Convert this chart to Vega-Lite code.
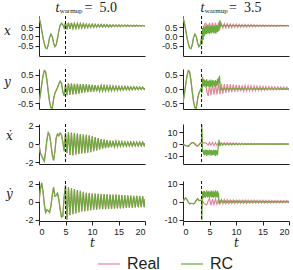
{
  "$schema": "https://vega.github.io/schema/vega-lite/v6.json",
  "padding": {"left": 3, "top": 0, "right": 4, "bottom": 0},
  "datasets": {
    "real": [
      {"t":0,"x":1.0,"y":-0.48,"xd":0,"yd":0},
      {"t":0.25,"x":0.75,"y":-0.2,"xd":-1.0,"yd":1.3},
      {"t":0.5,"x":0.35,"y":0.15,"xd":-1.3,"yd":2.1},
      {"t":0.75,"x":-0.05,"y":0.45,"xd":-1.6,"yd":1.2},
      {"t":1.0,"x":-0.4,"y":0.64,"xd":-1.9,"yd":-0.3},
      {"t":1.25,"x":-0.62,"y":0.6,"xd":-0.8,"yd":-1.2},
      {"t":1.5,"x":-0.66,"y":0.3,"xd":0.5,"yd":-0.9},
      {"t":1.75,"x":-0.45,"y":-0.1,"xd":1.25,"yd":-1.0},
      {"t":2.0,"x":-0.05,"y":-0.45,"xd":1.0,"yd":-1.2},
      {"t":2.25,"x":0.12,"y":-0.65,"xd":0.0,"yd":-0.5},
      {"t":2.5,"x":0.0,"y":-0.68,"xd":-1.2,"yd":0.7},
      {"t":2.75,"x":-0.35,"y":-0.35,"xd":-1.8,"yd":1.6},
      {"t":3.0,"x":-0.55,"y":-0.15,"xd":-0.8,"yd":0.6},
      {"t":3.25,"x":-0.45,"y":-0.05,"xd":0.7,"yd":0.7},
      {"t":3.5,"x":-0.1,"y":0.05,"xd":1.1,"yd":0.95},
      {"t":3.75,"x":0.3,"y":0.18,"xd":0.9,"yd":0.2},
      {"t":4.0,"x":0.6,"y":0.27,"xd":1.2,"yd":-0.9},
      {"t":4.25,"x":0.7,"y":0.2,"xd":1.0,"yd":-1.7},
      {"t":4.5,"x":0.62,"y":-0.1,"xd":0.2,"yd":-1.6},
      {"t":4.75,"x":0.45,"y":-0.24,"xd":-0.8,"yd":0.6},
      {"t":5.0,"x":0.72,"y":0.15,"xd":1.2,"yd":1.8},
      {"t":5.28,"x":0.38,"y":-0.22,"xd":-1.0,"yd":-2.0},
      {"t":5.56,"x":0.74,"y":0.2,"xd":1.3,"yd":1.6},
      {"t":5.84,"x":0.40,"y":-0.2,"xd":-1.2,"yd":-1.5},
      {"t":6.12,"x":0.72,"y":0.19,"xd":1.25,"yd":1.5},
      {"t":6.40,"x":0.42,"y":-0.19,"xd":-1.25,"yd":-1.4},
      {"t":6.68,"x":0.70,"y":0.18,"xd":1.2,"yd":1.4},
      {"t":6.96,"x":0.43,"y":-0.18,"xd":-1.15,"yd":-1.3},
      {"t":7.24,"x":0.69,"y":0.18,"xd":1.15,"yd":1.3},
      {"t":7.52,"x":0.44,"y":-0.16,"xd":-1.1,"yd":-1.2},
      {"t":7.80,"x":0.68,"y":0.17,"xd":1.1,"yd":1.2},
      {"t":8.08,"x":0.45,"y":-0.14,"xd":-1.05,"yd":-1.1},
      {"t":8.36,"x":0.67,"y":0.17,"xd":1.05,"yd":1.1},
      {"t":8.64,"x":0.46,"y":-0.12,"xd":-1.0,"yd":-1.05},
      {"t":8.92,"x":0.66,"y":0.16,"xd":1.0,"yd":1.0},
      {"t":9.20,"x":0.47,"y":-0.11,"xd":-0.95,"yd":-1.0},
      {"t":9.48,"x":0.655,"y":0.15,"xd":0.95,"yd":0.95},
      {"t":9.76,"x":0.48,"y":-0.1,"xd":-0.9,"yd":-0.95},
      {"t":10.04,"x":0.65,"y":0.14,"xd":0.85,"yd":0.9},
      {"t":10.32,"x":0.485,"y":-0.09,"xd":-0.8,"yd":-0.9},
      {"t":10.60,"x":0.645,"y":0.135,"xd":0.75,"yd":0.9},
      {"t":10.88,"x":0.49,"y":-0.08,"xd":-0.7,"yd":-0.88},
      {"t":11.16,"x":0.64,"y":0.13,"xd":0.65,"yd":0.88},
      {"t":11.44,"x":0.495,"y":-0.075,"xd":-0.6,"yd":-0.85},
      {"t":11.72,"x":0.635,"y":0.12,"xd":0.55,"yd":0.85},
      {"t":12.00,"x":0.50,"y":-0.07,"xd":-0.52,"yd":-0.85},
      {"t":12.28,"x":0.63,"y":0.115,"xd":0.48,"yd":0.85},
      {"t":12.56,"x":0.505,"y":-0.065,"xd":-0.45,"yd":-0.83},
      {"t":12.84,"x":0.625,"y":0.11,"xd":0.42,"yd":0.83},
      {"t":13.12,"x":0.51,"y":-0.06,"xd":-0.4,"yd":-0.8},
      {"t":13.40,"x":0.62,"y":0.105,"xd":0.37,"yd":0.8},
      {"t":13.68,"x":0.515,"y":-0.055,"xd":-0.35,"yd":-0.8},
      {"t":13.96,"x":0.615,"y":0.10,"xd":0.33,"yd":0.8},
      {"t":14.24,"x":0.52,"y":-0.05,"xd":-0.31,"yd":-0.78},
      {"t":14.52,"x":0.61,"y":0.095,"xd":0.3,"yd":0.78},
      {"t":14.80,"x":0.525,"y":-0.045,"xd":-0.28,"yd":-0.76},
      {"t":15.08,"x":0.61,"y":0.09,"xd":0.27,"yd":0.76},
      {"t":15.36,"x":0.525,"y":-0.04,"xd":-0.26,"yd":-0.74},
      {"t":15.64,"x":0.605,"y":0.085,"xd":0.25,"yd":0.74},
      {"t":15.92,"x":0.53,"y":-0.035,"xd":-0.24,"yd":-0.72},
      {"t":16.20,"x":0.605,"y":0.085,"xd":0.24,"yd":0.72},
      {"t":16.48,"x":0.53,"y":-0.03,"xd":-0.23,"yd":-0.7},
      {"t":16.76,"x":0.60,"y":0.08,"xd":0.23,"yd":0.7},
      {"t":17.04,"x":0.535,"y":-0.03,"xd":-0.22,"yd":-0.68},
      {"t":17.32,"x":0.60,"y":0.075,"xd":0.22,"yd":0.68},
      {"t":17.60,"x":0.535,"y":-0.025,"xd":-0.22,"yd":-0.66},
      {"t":17.88,"x":0.595,"y":0.075,"xd":0.22,"yd":0.66},
      {"t":18.16,"x":0.54,"y":-0.02,"xd":-0.21,"yd":-0.64},
      {"t":18.44,"x":0.595,"y":0.07,"xd":0.21,"yd":0.64},
      {"t":18.72,"x":0.54,"y":-0.02,"xd":-0.21,"yd":-0.62},
      {"t":19.00,"x":0.59,"y":0.065,"xd":0.21,"yd":0.62},
      {"t":19.28,"x":0.545,"y":-0.015,"xd":-0.2,"yd":-0.6},
      {"t":19.56,"x":0.59,"y":0.065,"xd":0.2,"yd":0.6},
      {"t":19.84,"x":0.545,"y":-0.015,"xd":-0.2,"yd":-0.6},
      {"t":20.0,"x":0.57,"y":0.03,"xd":0.1,"yd":0.3}
    ],
    "rc": [
      {"t":3.5,"x":-0.1,"y":0.05,"xd":1.1,"yd":0.95},
      {"t":3.55,"x":-0.3,"y":-0.05,"xd":16.3,"yd":-10.2},
      {"t":3.6,"x":-0.45,"y":-0.15,"xd":10,"yd":-4},
      {"t":3.7,"x":0.45,"y":0.42,"xd":-7,"yd":5.5},
      {"t":3.8,"x":-0.2,"y":0.1,"xd":-5,"yd":2.0},
      {"t":3.9,"x":0.55,"y":0.35,"xd":-9,"yd":5.8},
      {"t":4.0,"x":0.0,"y":0.08,"xd":-5.5,"yd":2.5},
      {"t":4.1,"x":0.5,"y":0.32,"xd":-9.5,"yd":6.0},
      {"t":4.2,"x":0.1,"y":0.12,"xd":-4.8,"yd":2.2},
      {"t":4.3,"x":0.6,"y":0.3,"xd":-8.8,"yd":5.2},
      {"t":4.4,"x":0.12,"y":0.06,"xd":-5.2,"yd":3.0},
      {"t":4.5,"x":0.55,"y":0.34,"xd":-10.2,"yd":6.3},
      {"t":4.6,"x":0.15,"y":0.1,"xd":-5.0,"yd":2.4},
      {"t":4.7,"x":0.62,"y":0.28,"xd":-9.0,"yd":5.5},
      {"t":4.8,"x":0.18,"y":0.08,"xd":-5.6,"yd":2.8},
      {"t":4.9,"x":0.5,"y":0.3,"xd":-9.8,"yd":6.1},
      {"t":5.0,"x":0.12,"y":0.12,"xd":-4.8,"yd":2.0},
      {"t":5.1,"x":0.58,"y":0.33,"xd":-8.6,"yd":5.4},
      {"t":5.2,"x":0.2,"y":0.07,"xd":-5.4,"yd":2.9},
      {"t":5.3,"x":0.55,"y":0.29,"xd":-10.0,"yd":6.2},
      {"t":5.4,"x":0.15,"y":0.11,"xd":-5.1,"yd":2.3},
      {"t":5.5,"x":0.6,"y":0.32,"xd":-9.2,"yd":5.7},
      {"t":5.6,"x":0.22,"y":0.08,"xd":-5.8,"yd":2.6},
      {"t":5.7,"x":0.52,"y":0.3,"xd":-9.6,"yd":6.0},
      {"t":5.8,"x":0.16,"y":0.13,"xd":-4.9,"yd":2.1},
      {"t":5.9,"x":0.58,"y":0.27,"xd":-8.9,"yd":5.3},
      {"t":6.0,"x":0.2,"y":0.09,"xd":-5.3,"yd":3.0},
      {"t":6.1,"x":0.55,"y":0.31,"xd":-10.4,"yd":6.3},
      {"t":6.2,"x":0.14,"y":0.1,"xd":-5.0,"yd":2.4},
      {"t":6.3,"x":0.6,"y":0.28,"xd":-9.0,"yd":5.6},
      {"t":6.4,"x":0.22,"y":0.12,"xd":-5.5,"yd":2.7},
      {"t":6.5,"x":0.56,"y":0.35,"xd":-9.7,"yd":6.1},
      {"t":6.6,"x":0.25,"y":0.15,"xd":-4.6,"yd":2.2},
      {"t":6.7,"x":0.62,"y":0.4,"xd":-1.0,"yd":5.0},
      {"t":6.8,"x":0.3,"y":0.2,"xd":3.5,"yd":-1.3},
      {"t":6.9,"x":0.75,"y":0.46,"xd":-1.5,"yd":0.5},
      {"t":7.0,"x":0.85,"y":0.1,"xd":1.0,"yd":-0.8},
      {"t":7.1,"x":0.5,"y":-0.05,"xd":-0.5,"yd":0.3},
      {"t":7.2,"x":0.62,"y":0.03,"xd":0.3,"yd":-0.2},
      {"t":7.48,"x":0.55,"y":-0.03,"xd":-0.3,"yd":0.5},
      {"t":7.76,"x":0.6,"y":0.03,"xd":0.3,"yd":-0.5},
      {"t":8.04,"x":0.55,"y":-0.03,"xd":-0.3,"yd":0.5},
      {"t":8.32,"x":0.6,"y":0.03,"xd":0.28,"yd":-0.48},
      {"t":8.60,"x":0.555,"y":-0.025,"xd":-0.28,"yd":0.48},
      {"t":8.88,"x":0.595,"y":0.025,"xd":0.26,"yd":-0.46},
      {"t":9.16,"x":0.555,"y":-0.025,"xd":-0.26,"yd":0.46},
      {"t":9.44,"x":0.595,"y":0.025,"xd":0.24,"yd":-0.44},
      {"t":9.72,"x":0.56,"y":-0.02,"xd":-0.24,"yd":0.44},
      {"t":10.00,"x":0.59,"y":0.02,"xd":0.22,"yd":-0.42},
      {"t":10.28,"x":0.56,"y":-0.02,"xd":-0.22,"yd":0.42},
      {"t":10.56,"x":0.59,"y":0.02,"xd":0.2,"yd":-0.4},
      {"t":10.84,"x":0.565,"y":-0.02,"xd":-0.2,"yd":0.4},
      {"t":11.12,"x":0.59,"y":0.02,"xd":0.18,"yd":-0.4},
      {"t":11.40,"x":0.565,"y":-0.015,"xd":-0.18,"yd":0.38},
      {"t":11.68,"x":0.585,"y":0.015,"xd":0.16,"yd":-0.38},
      {"t":11.96,"x":0.565,"y":-0.015,"xd":-0.16,"yd":0.36},
      {"t":12.24,"x":0.585,"y":0.015,"xd":0.15,"yd":-0.36},
      {"t":12.52,"x":0.57,"y":-0.015,"xd":-0.15,"yd":0.35},
      {"t":12.80,"x":0.585,"y":0.015,"xd":0.14,"yd":-0.35},
      {"t":13.08,"x":0.57,"y":-0.01,"xd":-0.14,"yd":0.34},
      {"t":13.36,"x":0.585,"y":0.01,"xd":0.13,"yd":-0.34},
      {"t":13.64,"x":0.57,"y":-0.01,"xd":-0.13,"yd":0.33},
      {"t":13.92,"x":0.58,"y":0.01,"xd":0.12,"yd":-0.33},
      {"t":14.20,"x":0.57,"y":-0.01,"xd":-0.12,"yd":0.32},
      {"t":14.48,"x":0.58,"y":0.01,"xd":0.11,"yd":-0.32},
      {"t":14.76,"x":0.57,"y":-0.01,"xd":-0.11,"yd":0.31},
      {"t":15.04,"x":0.58,"y":0.01,"xd":0.1,"yd":-0.31},
      {"t":15.32,"x":0.57,"y":-0.01,"xd":-0.1,"yd":0.3},
      {"t":15.60,"x":0.58,"y":0.01,"xd":0.1,"yd":-0.3},
      {"t":15.88,"x":0.572,"y":-0.008,"xd":-0.1,"yd":0.3},
      {"t":16.16,"x":0.58,"y":0.008,"xd":0.09,"yd":-0.29},
      {"t":16.44,"x":0.572,"y":-0.008,"xd":-0.09,"yd":0.29},
      {"t":16.72,"x":0.58,"y":0.008,"xd":0.09,"yd":-0.28},
      {"t":17.00,"x":0.572,"y":-0.008,"xd":-0.09,"yd":0.28},
      {"t":17.28,"x":0.58,"y":0.008,"xd":0.08,"yd":-0.28},
      {"t":17.56,"x":0.572,"y":-0.008,"xd":-0.08,"yd":0.27},
      {"t":17.84,"x":0.578,"y":0.008,"xd":0.08,"yd":-0.27},
      {"t":18.12,"x":0.572,"y":-0.006,"xd":-0.08,"yd":0.27},
      {"t":18.40,"x":0.578,"y":0.006,"xd":0.08,"yd":-0.26},
      {"t":18.68,"x":0.572,"y":-0.006,"xd":-0.08,"yd":0.26},
      {"t":18.96,"x":0.578,"y":0.006,"xd":0.07,"yd":-0.26},
      {"t":19.24,"x":0.572,"y":-0.006,"xd":-0.07,"yd":0.25},
      {"t":19.52,"x":0.578,"y":0.006,"xd":0.07,"yd":-0.25},
      {"t":19.80,"x":0.572,"y":-0.006,"xd":-0.07,"yd":0.25},
      {"t":20.0,"x":0.575,"y":0.0,"xd":0.0,"yd":0.0}
    ]
  },
  "columns": 2,
  "spacing": {"row": 11, "column": 15},
  "concat": [
    {
      "width": 106, "height": 40,
      "layer": [
        {"data": {"name": "real"}, "mark": {"type": "line", "clip": true},
         "encoding": {
           "x": {"field": "t", "type": "quantitative", "scale": {"domain": [0, 20], "nice": false}, "axis": {"labels": false, "ticks": false, "title": null, "labelOverlap": false}},
           "y": {"field": "x", "type": "quantitative", "scale": {"domain": [-1.05, 1.09], "nice": false, "zero": false}, "axis": {"values": [-0.5, 0, 0.5], "format": ".1f", "labelOverlap": false, "title": "x", "titleAngle": 0, "titleAlign": "center", "titleBaseline": "alphabetic", "titleX": -32, "titleY": 18}},
           "color": {"datum": "Real", "type": "nominal", "scale": {"domain": ["Real", "RC"], "range": ["#e7849b", "#6aab3b"]}, "legend": {"title": null}}}},
        {"data": {"name": "real"}, "mark": {"type": "line", "clip": true},
         "encoding": {
           "x": {"field": "t", "type": "quantitative", "scale": {"domain": [0, 20], "nice": false}, "axis": {"labels": false, "ticks": false, "title": null, "labelOverlap": false}},
           "y": {"field": "x", "type": "quantitative", "scale": {"domain": [-1.05, 1.09], "nice": false, "zero": false}, "axis": {"values": [-0.5, 0, 0.5], "format": ".1f", "labelOverlap": false, "title": "x", "titleAngle": 0, "titleAlign": "center", "titleBaseline": "alphabetic", "titleX": -32, "titleY": 18}},
           "color": {"datum": "RC", "type": "nominal", "scale": {"domain": ["Real", "RC"], "range": ["#e7849b", "#6aab3b"]}, "legend": {"title": null}}}},
        {"data": {"values": [{"tw": 5}]}, "mark": {"type": "rule", "strokeDash": [3, 2], "color": "#111", "strokeWidth": 1},
         "encoding": {"x": {"field": "tw", "type": "quantitative", "scale": {"domain": [0, 20], "nice": false}, "axis": {"labels": false, "ticks": false, "title": null, "labelOverlap": false}}}},
        {"data": {"values": [{"tw": 5}]}, "mark": {"type": "text", "text": "t", "font": "Liberation Serif", "fontStyle": "italic", "fontSize": 14, "align": "left", "baseline": "alphabetic", "fill": "#222"},
         "encoding": {"x": {"datum": 3.1, "type": "quantitative", "scale": {"domain": [0, 20], "nice": false}, "axis": {"labels": false, "ticks": false, "title": null, "labelOverlap": false}}, "y": {"datum": 1.33, "type": "quantitative", "scale": {"domain": [-1.05, 1.09], "nice": false, "zero": false}, "axis": {"values": [-0.5, 0, 0.5], "format": ".1f", "labelOverlap": false, "title": "x", "titleAngle": 0, "titleAlign": "center", "titleBaseline": "alphabetic", "titleX": -32, "titleY": 18}}}},
        {"data": {"values": [{"tw": 5}]}, "mark": {"type": "text", "text": "warmup", "font": "Liberation Serif", "fontSize": 7, "align": "left", "baseline": "alphabetic", "fill": "#222"},
         "encoding": {"x": {"datum": 3.9, "type": "quantitative", "scale": {"domain": [0, 20], "nice": false}, "axis": {"labels": false, "ticks": false, "title": null, "labelOverlap": false}}, "y": {"datum": 1.26, "type": "quantitative", "scale": {"domain": [-1.05, 1.09], "nice": false, "zero": false}, "axis": {"values": [-0.5, 0, 0.5], "format": ".1f", "labelOverlap": false, "title": "x", "titleAngle": 0, "titleAlign": "center", "titleBaseline": "alphabetic", "titleX": -32, "titleY": 18}}}},
        {"data": {"values": [{"tw": 5}]}, "mark": {"type": "text", "text": "=\u20025.0", "font": "Liberation Serif", "fontSize": 14, "align": "left", "baseline": "alphabetic", "fill": "#222"},
         "encoding": {"x": {"datum": 8.6, "type": "quantitative", "scale": {"domain": [0, 20], "nice": false}, "axis": {"labels": false, "ticks": false, "title": null, "labelOverlap": false}}, "y": {"datum": 1.33, "type": "quantitative", "scale": {"domain": [-1.05, 1.09], "nice": false, "zero": false}, "axis": {"values": [-0.5, 0, 0.5], "format": ".1f", "labelOverlap": false, "title": "x", "titleAngle": 0, "titleAlign": "center", "titleBaseline": "alphabetic", "titleX": -32, "titleY": 18}}}}
      ]
    },
    {
      "width": 106, "height": 40,
      "layer": [
        {"data": {"name": "real"}, "mark": {"type": "line", "clip": true},
         "encoding": {
           "x": {"field": "t", "type": "quantitative", "scale": {"domain": [0, 20], "nice": false}, "axis": {"labels": false, "ticks": false, "title": null, "labelOverlap": false}},
           "y": {"field": "x", "type": "quantitative", "scale": {"domain": [-1.05, 1.09], "nice": false, "zero": false}, "axis": {"values": [-0.5, 0, 0.5], "format": ".1f", "labelOverlap": false, "title": null}},
           "color": {"datum": "Real", "type": "nominal", "scale": {"domain": ["Real", "RC"], "range": ["#e7849b", "#6aab3b"]}, "legend": {"title": null}}}},
        {"data": {"name": "real"}, "transform": [{"filter": "datum.t <= 3.5"}], "mark": {"type": "line", "clip": true},
         "encoding": {
           "x": {"field": "t", "type": "quantitative", "scale": {"domain": [0, 20], "nice": false}, "axis": {"labels": false, "ticks": false, "title": null, "labelOverlap": false}},
           "y": {"field": "x", "type": "quantitative", "scale": {"domain": [-1.05, 1.09], "nice": false, "zero": false}, "axis": {"values": [-0.5, 0, 0.5], "format": ".1f", "labelOverlap": false, "title": null}},
           "color": {"datum": "RC", "type": "nominal", "scale": {"domain": ["Real", "RC"], "range": ["#e7849b", "#6aab3b"]}, "legend": {"title": null}}}},
        {"data": {"name": "rc"}, "mark": {"type": "line", "clip": true},
         "encoding": {
           "x": {"field": "t", "type": "quantitative", "scale": {"domain": [0, 20], "nice": false}, "axis": {"labels": false, "ticks": false, "title": null, "labelOverlap": false}},
           "y": {"field": "x", "type": "quantitative", "scale": {"domain": [-1.05, 1.09], "nice": false, "zero": false}, "axis": {"values": [-0.5, 0, 0.5], "format": ".1f", "labelOverlap": false, "title": null}},
           "color": {"datum": "RC", "type": "nominal", "scale": {"domain": ["Real", "RC"], "range": ["#e7849b", "#6aab3b"]}, "legend": {"title": null}}}},
        {"data": {"values": [{"tw": 3.5}]}, "mark": {"type": "rule", "strokeDash": [3, 2], "color": "#111", "strokeWidth": 1},
         "encoding": {"x": {"field": "tw", "type": "quantitative", "scale": {"domain": [0, 20], "nice": false}, "axis": {"labels": false, "ticks": false, "title": null, "labelOverlap": false}}}},
        {"data": {"values": [{"tw": 3.5}]}, "mark": {"type": "text", "text": "t", "font": "Liberation Serif", "fontStyle": "italic", "fontSize": 14, "align": "left", "baseline": "alphabetic", "fill": "#222"},
         "encoding": {"x": {"datum": 3.3, "type": "quantitative", "scale": {"domain": [0, 20], "nice": false}, "axis": {"labels": false, "ticks": false, "title": null, "labelOverlap": false}}, "y": {"datum": 1.33, "type": "quantitative", "scale": {"domain": [-1.05, 1.09], "nice": false, "zero": false}, "axis": {"values": [-0.5, 0, 0.5], "format": ".1f", "labelOverlap": false, "title": null}}}},
        {"data": {"values": [{"tw": 3.5}]}, "mark": {"type": "text", "text": "warmup", "font": "Liberation Serif", "fontSize": 7, "align": "left", "baseline": "alphabetic", "fill": "#222"},
         "encoding": {"x": {"datum": 4.1, "type": "quantitative", "scale": {"domain": [0, 20], "nice": false}, "axis": {"labels": false, "ticks": false, "title": null, "labelOverlap": false}}, "y": {"datum": 1.26, "type": "quantitative", "scale": {"domain": [-1.05, 1.09], "nice": false, "zero": false}, "axis": {"values": [-0.5, 0, 0.5], "format": ".1f", "labelOverlap": false, "title": null}}}},
        {"data": {"values": [{"tw": 3.5}]}, "mark": {"type": "text", "text": "=\u20023.5", "font": "Liberation Serif", "fontSize": 14, "align": "left", "baseline": "alphabetic", "fill": "#222"},
         "encoding": {"x": {"datum": 8.7, "type": "quantitative", "scale": {"domain": [0, 20], "nice": false}, "axis": {"labels": false, "ticks": false, "title": null, "labelOverlap": false}}, "y": {"datum": 1.33, "type": "quantitative", "scale": {"domain": [-1.05, 1.09], "nice": false, "zero": false}, "axis": {"values": [-0.5, 0, 0.5], "format": ".1f", "labelOverlap": false, "title": null}}}}
      ]
    },
    {
      "width": 106, "height": 40,
      "layer": [
        {"data": {"name": "real"}, "mark": {"type": "line", "clip": true},
         "encoding": {
           "x": {"field": "t", "type": "quantitative", "scale": {"domain": [0, 20], "nice": false}, "axis": {"labels": false, "ticks": false, "title": null, "labelOverlap": false}},
           "y": {"field": "y", "type": "quantitative", "scale": {"domain": [-0.7, 0.7], "nice": false, "zero": false}, "axis": {"values": [-0.5, 0, 0.5], "format": ".1f", "labelOverlap": false, "title": "y", "titleAngle": 0, "titleAlign": "center", "titleBaseline": "alphabetic", "titleX": -32, "titleY": 16}},
           "color": {"datum": "Real", "type": "nominal", "scale": {"domain": ["Real", "RC"], "range": ["#e7849b", "#6aab3b"]}, "legend": {"title": null}}}},
        {"data": {"name": "real"}, "mark": {"type": "line", "clip": true},
         "encoding": {
           "x": {"field": "t", "type": "quantitative", "scale": {"domain": [0, 20], "nice": false}, "axis": {"labels": false, "ticks": false, "title": null, "labelOverlap": false}},
           "y": {"field": "y", "type": "quantitative", "scale": {"domain": [-0.7, 0.7], "nice": false, "zero": false}, "axis": {"values": [-0.5, 0, 0.5], "format": ".1f", "labelOverlap": false, "title": "y", "titleAngle": 0, "titleAlign": "center", "titleBaseline": "alphabetic", "titleX": -32, "titleY": 16}},
           "color": {"datum": "RC", "type": "nominal", "scale": {"domain": ["Real", "RC"], "range": ["#e7849b", "#6aab3b"]}, "legend": {"title": null}}}},
        {"data": {"values": [{"tw": 5}]}, "mark": {"type": "rule", "strokeDash": [3, 2], "color": "#111", "strokeWidth": 1},
         "encoding": {"x": {"field": "tw", "type": "quantitative", "scale": {"domain": [0, 20], "nice": false}, "axis": {"labels": false, "ticks": false, "title": null, "labelOverlap": false}}}}
      ]
    },
    {
      "width": 106, "height": 40,
      "layer": [
        {"data": {"name": "real"}, "mark": {"type": "line", "clip": true},
         "encoding": {
           "x": {"field": "t", "type": "quantitative", "scale": {"domain": [0, 20], "nice": false}, "axis": {"labels": false, "ticks": false, "title": null, "labelOverlap": false}},
           "y": {"field": "y", "type": "quantitative", "scale": {"domain": [-0.7, 0.7], "nice": false, "zero": false}, "axis": {"values": [-0.5, 0, 0.5], "format": ".1f", "labelOverlap": false, "title": null}},
           "color": {"datum": "Real", "type": "nominal", "scale": {"domain": ["Real", "RC"], "range": ["#e7849b", "#6aab3b"]}, "legend": {"title": null}}}},
        {"data": {"name": "real"}, "transform": [{"filter": "datum.t <= 3.5"}], "mark": {"type": "line", "clip": true},
         "encoding": {
           "x": {"field": "t", "type": "quantitative", "scale": {"domain": [0, 20], "nice": false}, "axis": {"labels": false, "ticks": false, "title": null, "labelOverlap": false}},
           "y": {"field": "y", "type": "quantitative", "scale": {"domain": [-0.7, 0.7], "nice": false, "zero": false}, "axis": {"values": [-0.5, 0, 0.5], "format": ".1f", "labelOverlap": false, "title": null}},
           "color": {"datum": "RC", "type": "nominal", "scale": {"domain": ["Real", "RC"], "range": ["#e7849b", "#6aab3b"]}, "legend": {"title": null}}}},
        {"data": {"name": "rc"}, "mark": {"type": "line", "clip": true},
         "encoding": {
           "x": {"field": "t", "type": "quantitative", "scale": {"domain": [0, 20], "nice": false}, "axis": {"labels": false, "ticks": false, "title": null, "labelOverlap": false}},
           "y": {"field": "y", "type": "quantitative", "scale": {"domain": [-0.7, 0.7], "nice": false, "zero": false}, "axis": {"values": [-0.5, 0, 0.5], "format": ".1f", "labelOverlap": false, "title": null}},
           "color": {"datum": "RC", "type": "nominal", "scale": {"domain": ["Real", "RC"], "range": ["#e7849b", "#6aab3b"]}, "legend": {"title": null}}}},
        {"data": {"values": [{"tw": 3.5}]}, "mark": {"type": "rule", "strokeDash": [3, 2], "color": "#111", "strokeWidth": 1},
         "encoding": {"x": {"field": "tw", "type": "quantitative", "scale": {"domain": [0, 20], "nice": false}, "axis": {"labels": false, "ticks": false, "title": null, "labelOverlap": false}}}}
      ]
    },
    {
      "width": 106, "height": 40,
      "layer": [
        {"data": {"name": "real"}, "mark": {"type": "line", "clip": true},
         "encoding": {
           "x": {"field": "t", "type": "quantitative", "scale": {"domain": [0, 20], "nice": false}, "axis": {"labels": false, "ticks": false, "title": null, "labelOverlap": false}},
           "y": {"field": "xd", "type": "quantitative", "scale": {"domain": [-2.2, 2.2], "nice": false, "zero": false}, "axis": {"values": [-2, 0, 2], "format": "d", "labelOverlap": false, "title": "ẋ", "titleAngle": 0, "titleAlign": "center", "titleBaseline": "alphabetic", "titleX": -30, "titleY": 15}},
           "color": {"datum": "Real", "type": "nominal", "scale": {"domain": ["Real", "RC"], "range": ["#e7849b", "#6aab3b"]}, "legend": {"title": null}}}},
        {"data": {"name": "real"}, "mark": {"type": "line", "clip": true},
         "encoding": {
           "x": {"field": "t", "type": "quantitative", "scale": {"domain": [0, 20], "nice": false}, "axis": {"labels": false, "ticks": false, "title": null, "labelOverlap": false}},
           "y": {"field": "xd", "type": "quantitative", "scale": {"domain": [-2.2, 2.2], "nice": false, "zero": false}, "axis": {"values": [-2, 0, 2], "format": "d", "labelOverlap": false, "title": "ẋ", "titleAngle": 0, "titleAlign": "center", "titleBaseline": "alphabetic", "titleX": -30, "titleY": 15}},
           "color": {"datum": "RC", "type": "nominal", "scale": {"domain": ["Real", "RC"], "range": ["#e7849b", "#6aab3b"]}, "legend": {"title": null}}}},
        {"data": {"values": [{"tw": 5}]}, "mark": {"type": "rule", "strokeDash": [3, 2], "color": "#111", "strokeWidth": 1},
         "encoding": {"x": {"field": "tw", "type": "quantitative", "scale": {"domain": [0, 20], "nice": false}, "axis": {"labels": false, "ticks": false, "title": null, "labelOverlap": false}}}}
      ]
    },
    {
      "width": 106, "height": 40,
      "layer": [
        {"data": {"name": "real"}, "mark": {"type": "line", "clip": true},
         "encoding": {
           "x": {"field": "t", "type": "quantitative", "scale": {"domain": [0, 20], "nice": false}, "axis": {"labels": false, "ticks": false, "title": null, "labelOverlap": false}},
           "y": {"field": "xd", "type": "quantitative", "scale": {"domain": [-17, 17], "nice": false, "zero": false}, "axis": {"values": [-10, 0, 10], "format": "d", "labelOverlap": false, "title": null}},
           "color": {"datum": "Real", "type": "nominal", "scale": {"domain": ["Real", "RC"], "range": ["#e7849b", "#6aab3b"]}, "legend": {"title": null}}}},
        {"data": {"name": "real"}, "transform": [{"filter": "datum.t <= 3.5"}], "mark": {"type": "line", "clip": true},
         "encoding": {
           "x": {"field": "t", "type": "quantitative", "scale": {"domain": [0, 20], "nice": false}, "axis": {"labels": false, "ticks": false, "title": null, "labelOverlap": false}},
           "y": {"field": "xd", "type": "quantitative", "scale": {"domain": [-17, 17], "nice": false, "zero": false}, "axis": {"values": [-10, 0, 10], "format": "d", "labelOverlap": false, "title": null}},
           "color": {"datum": "RC", "type": "nominal", "scale": {"domain": ["Real", "RC"], "range": ["#e7849b", "#6aab3b"]}, "legend": {"title": null}}}},
        {"data": {"name": "rc"}, "mark": {"type": "line", "clip": true},
         "encoding": {
           "x": {"field": "t", "type": "quantitative", "scale": {"domain": [0, 20], "nice": false}, "axis": {"labels": false, "ticks": false, "title": null, "labelOverlap": false}},
           "y": {"field": "xd", "type": "quantitative", "scale": {"domain": [-17, 17], "nice": false, "zero": false}, "axis": {"values": [-10, 0, 10], "format": "d", "labelOverlap": false, "title": null}},
           "color": {"datum": "RC", "type": "nominal", "scale": {"domain": ["Real", "RC"], "range": ["#e7849b", "#6aab3b"]}, "legend": {"title": null}}}},
        {"data": {"values": [{"tw": 3.5}]}, "mark": {"type": "rule", "strokeDash": [3, 2], "color": "#111", "strokeWidth": 1},
         "encoding": {"x": {"field": "tw", "type": "quantitative", "scale": {"domain": [0, 20], "nice": false}, "axis": {"labels": false, "ticks": false, "title": null, "labelOverlap": false}}}}
      ]
    },
    {
      "width": 106, "height": 40,
      "layer": [
        {"data": {"name": "real"}, "mark": {"type": "line", "clip": true},
         "encoding": {
           "x": {"field": "t", "type": "quantitative", "scale": {"domain": [0, 20], "nice": false}, "axis": {"values": [0, 5, 10, 15, 20], "labelOverlap": false, "title": "t", "titlePadding": 1}},
           "y": {"field": "yd", "type": "quantitative", "scale": {"domain": [-2.15, 2.3], "nice": false, "zero": false}, "axis": {"values": [-2, 0, 2], "format": "d", "labelOverlap": false, "title": "ẏ", "titleAngle": 0, "titleAlign": "center", "titleBaseline": "alphabetic", "titleX": -30, "titleY": 16}},
           "color": {"datum": "Real", "type": "nominal", "scale": {"domain": ["Real", "RC"], "range": ["#e7849b", "#6aab3b"]}, "legend": {"title": null}}}},
        {"data": {"name": "real"}, "mark": {"type": "line", "clip": true},
         "encoding": {
           "x": {"field": "t", "type": "quantitative", "scale": {"domain": [0, 20], "nice": false}, "axis": {"values": [0, 5, 10, 15, 20], "labelOverlap": false, "title": "t", "titlePadding": 1}},
           "y": {"field": "yd", "type": "quantitative", "scale": {"domain": [-2.15, 2.3], "nice": false, "zero": false}, "axis": {"values": [-2, 0, 2], "format": "d", "labelOverlap": false, "title": "ẏ", "titleAngle": 0, "titleAlign": "center", "titleBaseline": "alphabetic", "titleX": -30, "titleY": 16}},
           "color": {"datum": "RC", "type": "nominal", "scale": {"domain": ["Real", "RC"], "range": ["#e7849b", "#6aab3b"]}, "legend": {"title": null}}}},
        {"data": {"values": [{"tw": 5}]}, "mark": {"type": "rule", "strokeDash": [3, 2], "color": "#111", "strokeWidth": 1},
         "encoding": {"x": {"field": "tw", "type": "quantitative", "scale": {"domain": [0, 20], "nice": false}, "axis": {"values": [0, 5, 10, 15, 20], "labelOverlap": false, "title": "t", "titlePadding": 1}}}}
      ]
    },
    {
      "width": 106, "height": 40,
      "layer": [
        {"data": {"name": "real"}, "mark": {"type": "line", "clip": true},
         "encoding": {
           "x": {"field": "t", "type": "quantitative", "scale": {"domain": [0, 20], "nice": false}, "axis": {"values": [0, 5, 10, 15, 20], "labelOverlap": false, "title": "t", "titlePadding": 1}},
           "y": {"field": "yd", "type": "quantitative", "scale": {"domain": [-10.7, 11.5], "nice": false, "zero": false}, "axis": {"values": [-10, 0, 10], "format": "d", "labelOverlap": false, "title": null}},
           "color": {"datum": "Real", "type": "nominal", "scale": {"domain": ["Real", "RC"], "range": ["#e7849b", "#6aab3b"]}, "legend": {"title": null}}}},
        {"data": {"name": "real"}, "transform": [{"filter": "datum.t <= 3.5"}], "mark": {"type": "line", "clip": true},
         "encoding": {
           "x": {"field": "t", "type": "quantitative", "scale": {"domain": [0, 20], "nice": false}, "axis": {"values": [0, 5, 10, 15, 20], "labelOverlap": false, "title": "t", "titlePadding": 1}},
           "y": {"field": "yd", "type": "quantitative", "scale": {"domain": [-10.7, 11.5], "nice": false, "zero": false}, "axis": {"values": [-10, 0, 10], "format": "d", "labelOverlap": false, "title": null}},
           "color": {"datum": "RC", "type": "nominal", "scale": {"domain": ["Real", "RC"], "range": ["#e7849b", "#6aab3b"]}, "legend": {"title": null}}}},
        {"data": {"name": "rc"}, "mark": {"type": "line", "clip": true},
         "encoding": {
           "x": {"field": "t", "type": "quantitative", "scale": {"domain": [0, 20], "nice": false}, "axis": {"values": [0, 5, 10, 15, 20], "labelOverlap": false, "title": "t", "titlePadding": 1}},
           "y": {"field": "yd", "type": "quantitative", "scale": {"domain": [-10.7, 11.5], "nice": false, "zero": false}, "axis": {"values": [-10, 0, 10], "format": "d", "labelOverlap": false, "title": null}},
           "color": {"datum": "RC", "type": "nominal", "scale": {"domain": ["Real", "RC"], "range": ["#e7849b", "#6aab3b"]}, "legend": {"title": null}}}},
        {"data": {"values": [{"tw": 3.5}]}, "mark": {"type": "rule", "strokeDash": [3, 2], "color": "#111", "strokeWidth": 1},
         "encoding": {"x": {"field": "tw", "type": "quantitative", "scale": {"domain": [0, 20], "nice": false}, "axis": {"values": [0, 5, 10, 15, 20], "labelOverlap": false, "title": "t", "titlePadding": 1}}}}
      ]
    }
  ],
  "config": {
    "locale": {"number": {"decimal": ".", "thousands": ",", "grouping": [3], "currency": ["$", ""], "minus": "-"}},
    "view": {"stroke": null},
    "line": {"strokeWidth": 1.2},
    "axis": {
      "grid": false, "domainColor": "#222", "domainWidth": 1, "tickColor": "#222", "tickWidth": 1, "tickSize": 4,
      "labelColor": "#222", "labelFont": "Liberation Sans", "labelFontSize": 9, "labelPadding": 2, "labelOverlap": false,
      "titleFont": "DejaVu Serif", "titleFontStyle": "italic", "titleFontWeight": "normal", "titleFontSize": 12, "titleColor": "#222"
    },
    "legend": {
      "orient": "none", "legendX": 58, "legendY": 236, "direction": "horizontal",
      "symbolType": "stroke", "symbolSize": 484, "symbolStrokeWidth": 3.5,
      "labelFont": "Liberation Sans", "labelFontSize": 16, "labelColor": "#222", "labelOffset": 6,
      "columnPadding": 18, "padding": 0
    }
  }
}
